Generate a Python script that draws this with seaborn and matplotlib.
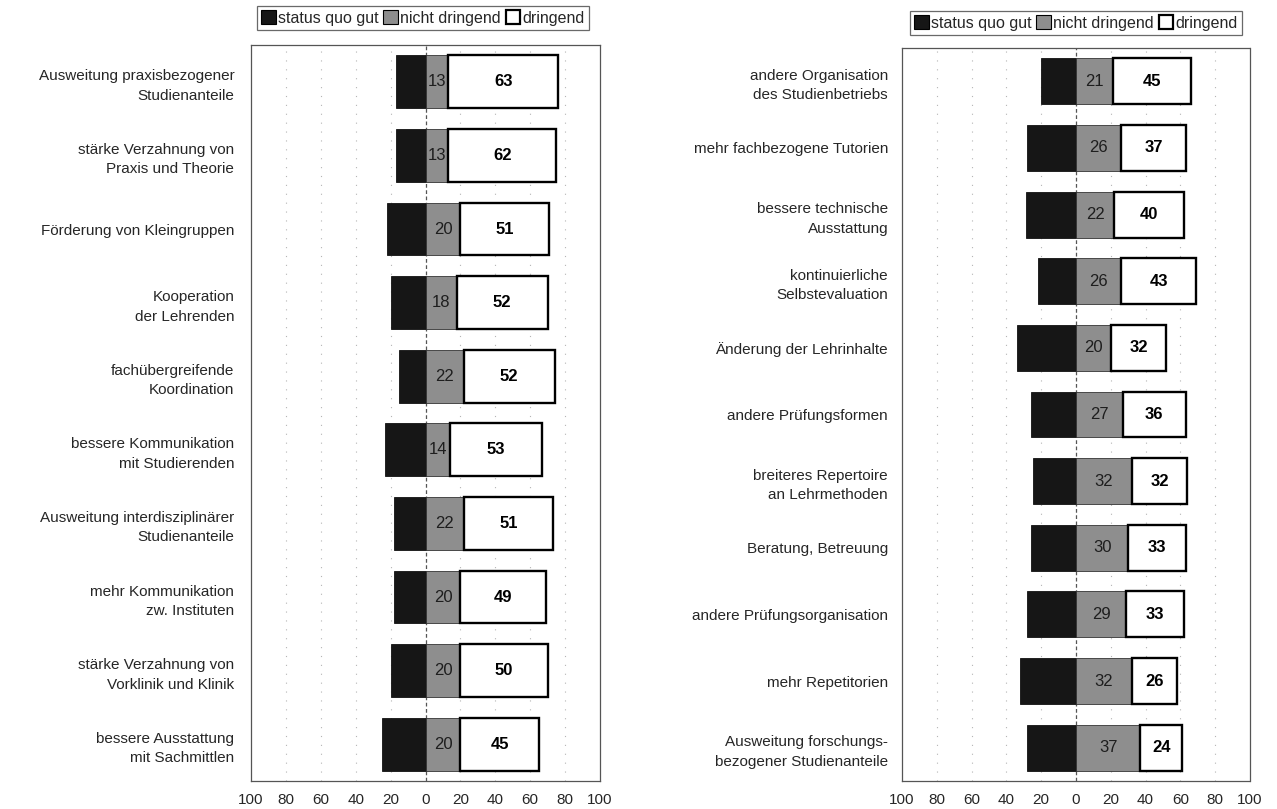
import numpy as np
import pandas as pd
import matplotlib
matplotlib.use("Agg")
import matplotlib.pyplot as plt
from matplotlib.patches import Patch
import seaborn as sns

# --- data -------------------------------------------------------------
left_categories = [
    "Ausweitung praxisbezogener\nStudienanteile",
    "stärke Verzahnung von\nPraxis und Theorie",
    "Förderung von Kleingruppen",
    "Kooperation\nder Lehrenden",
    "fachübergreifende\nKoordination",
    "bessere Kommunikation\nmit Studierenden",
    "Ausweitung interdisziplinärer\nStudienanteile",
    "mehr Kommunikation\nzw. Instituten",
    "stärke Verzahnung von\nVorklinik und Klinik",
    "bessere Ausstattung\nmit Sachmittlen",
]
left_status_quo = [17, 17, 22, 20, 15, 23, 18, 18, 20, 25]
left_nicht_dringend = [13, 13, 20, 18, 22, 14, 22, 20, 20, 20]
left_dringend = [63, 62, 51, 52, 52, 53, 51, 49, 50, 45]

right_categories = [
    "andere Organisation\ndes Studienbetriebs",
    "mehr fachbezogene Tutorien",
    "bessere technische\nAusstattung",
    "kontinuierliche\nSelbstevaluation",
    "Änderung der Lehrinhalte",
    "andere Prüfungsformen",
    "breiteres Repertoire\nan Lehrmethoden",
    "Beratung, Betreuung",
    "andere Prüfungsorganisation",
    "mehr Repetitorien",
    "Ausweitung forschungs-\nbezogener Studienanteile",
]
right_status_quo = [20, 28, 29, 22, 34, 26, 25, 26, 28, 32, 28]
right_nicht_dringend = [21, 26, 22, 26, 20, 27, 32, 30, 29, 32, 37]
right_dringend = [45, 37, 40, 43, 32, 36, 32, 33, 33, 26, 24]

x_ticks = [-100, -80, -60, -40, -20, 0, 20, 40, 60, 80, 100]
x_tick_labels = ["100", "80", "60", "40", "20", "0", "20", "40", "60", "80", "100"]

legend_labels = ["status quo gut", "nicht dringend", "dringend"]

# --- style ------------------------------------------------------------
sns.set_theme(style="white")
plt.rcParams["font.family"] = ["Liberation Sans", "DejaVu Sans"]

DARK = "#161616"
GREY = "#8e8e8e"
WHITE = "#ffffff"

fig = plt.figure(figsize=(12.77, 8.09), dpi=100)
ax_left = fig.add_axes([251 / 1277, 1 - 781 / 809, 349 / 1277, 736 / 809])
ax_right = fig.add_axes([902 / 1277, 1 - 781 / 809, 348 / 1277, 733 / 809])


def draw_panel(ax, cats, status, nicht, dring, bar_h, label_pad):
    df = pd.DataFrame({
        "cat": cats,
        "status": -np.asarray(status, dtype=float),
        "nicht": np.asarray(nicht, dtype=float),
        "dring": np.asarray(dring, dtype=float),
    })

    # faint gridlines and dashed zero line
    for xv in x_ticks:
        if xv in (-100, 100):
            continue
        if xv == 0:
            ax.axvline(0, color="#555555", lw=0.9, ls=(0, (3, 2)), zorder=1)
        else:
            ax.axvline(xv, color="#b5b5b5", lw=0.8, ls=(0, (1, 7)), zorder=1)

    # status quo gut (to the left of zero)
    sns.barplot(data=df, x="status", y="cat", order=cats, orient="h",
                color=DARK, saturation=1, width=bar_h, edgecolor="#111111",
                linewidth=0.6, ax=ax, zorder=3)
    # nicht dringend (from zero to the right)
    sns.barplot(data=df, x="nicht", y="cat", order=cats, orient="h",
                color=GREY, saturation=1, width=bar_h, edgecolor="#333333",
                linewidth=0.6, ax=ax, zorder=3)
    grey_bars = ax.containers[-1]
    # dringend (stacked after nicht dringend)
    sns.barplot(data=df, x="dring", y="cat", order=cats, orient="h",
                color=WHITE, saturation=1, width=bar_h, edgecolor="black",
                linewidth=1.7, left=df["nicht"].values, ax=ax, zorder=4)
    white_bars = ax.containers[-1]

    ax.bar_label(grey_bars, labels=[str(v) for v in nicht], label_type="center",
                 fontsize=12, color="#1e1e1e", zorder=6)
    ax.bar_label(white_bars, labels=[str(v) for v in dring], label_type="center",
                 fontsize=12, fontweight="bold", color="black", zorder=6)

    ax.set_xlim(-100, 100)
    ax.set_xticks(x_ticks)
    ax.set_xticklabels(x_tick_labels, fontsize=11)
    ax.set_xlabel("")
    ax.set_ylabel("")
    ax.tick_params(axis="x", length=0, pad=9)
    ax.tick_params(axis="y", length=0, pad=label_pad, labelsize=11)
    for lbl in ax.get_yticklabels():
        lbl.set_linespacing(1.5)
        lbl.set_horizontalalignment("right")
        lbl.set_multialignment("right")
    for sp in ax.spines.values():
        sp.set_visible(True)
        sp.set_color("#555555")
        sp.set_linewidth(0.9)
        sp.set_linestyle((0, (2, 1)))
    ax.grid(False)


draw_panel(ax_left, left_categories, left_status_quo, left_nicht_dringend,
           left_dringend, 0.72, 12)
draw_panel(ax_right, right_categories, right_status_quo, right_nicht_dringend,
           right_dringend, 0.69, 10)

handles = [
    Patch(facecolor=DARK, edgecolor="black", linewidth=0.8),
    Patch(facecolor=GREY, edgecolor="black", linewidth=0.8),
    Patch(facecolor=WHITE, edgecolor="black", linewidth=1.6),
]


def add_legend(cx, cy):
    leg = fig.legend(handles, legend_labels, loc="center",
                     bbox_to_anchor=(cx / 1277, 1 - cy / 809), ncol=3,
                     fontsize=11.5, frameon=True, fancybox=False,
                     edgecolor="#444444", handlelength=0.9, handleheight=0.9,
                     handletextpad=0.15, columnspacing=0.3, borderpad=0.25,
                     borderaxespad=0)
    leg.get_frame().set_linewidth(0.9)
    return leg


add_legend(423, 18)
add_legend(1076, 23)

fig.savefig("out.png", dpi=100)
